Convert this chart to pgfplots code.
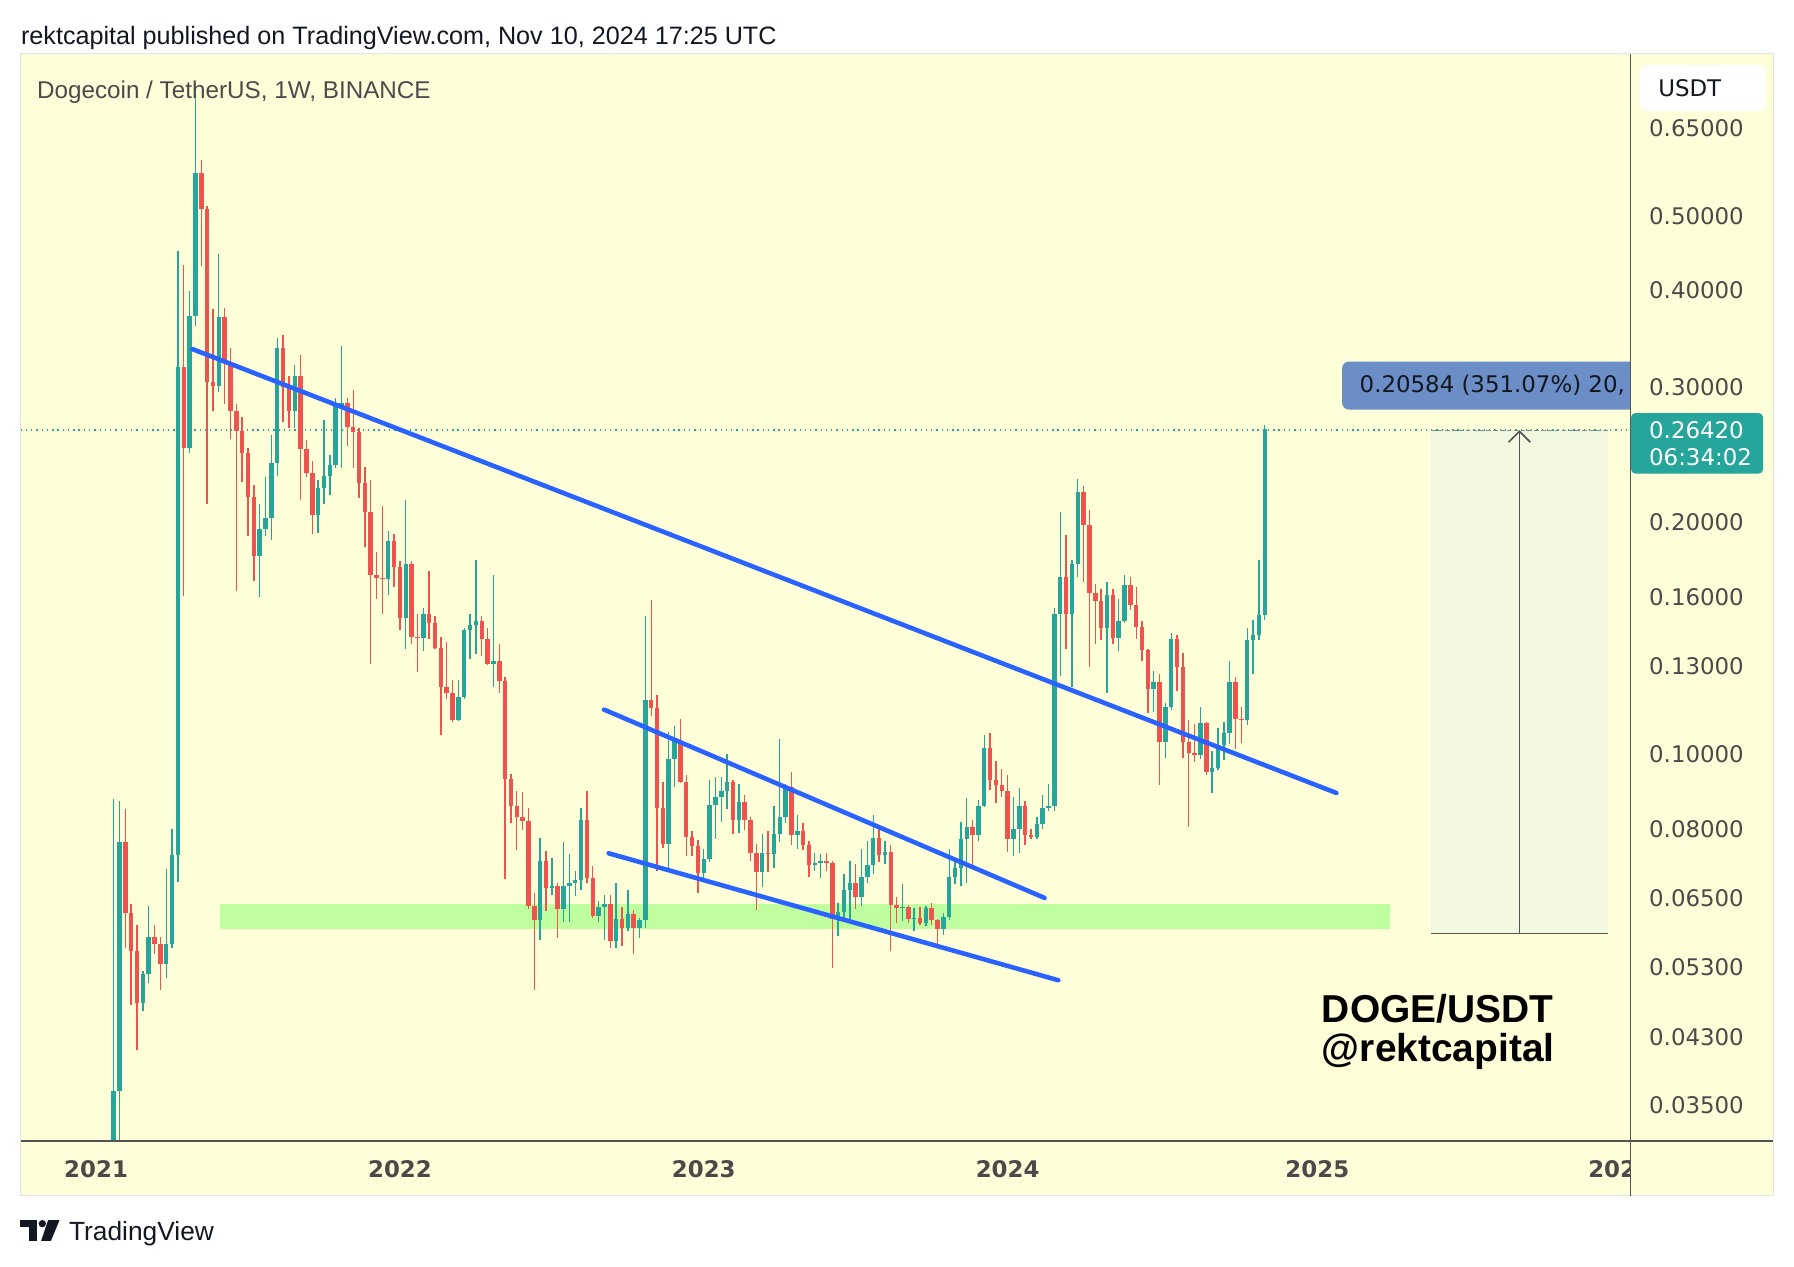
\documentclass[border=0pt]{standalone}
\usepackage{fontspec}
\setmainfont{Liberation Sans}
\newfontfamily\dv{DejaVu Sans}
\usepackage{pgfplots}
\usepackage{pgfplotstable}
\pgfplotsset{compat=1.18}
\definecolor{bg}{HTML}{FEFED8}
\definecolor{upc}{HTML}{26A69A}
\definecolor{dnc}{HTML}{EF5350}
\definecolor{tl}{HTML}{2962FF}
\definecolor{zone}{HTML}{BFFFA0}
\definecolor{meas}{HTML}{F2F8E0}
\definecolor{axisgray}{HTML}{4A4A4A}
\definecolor{titlegray}{HTML}{4B4B4B}
\definecolor{lab}{HTML}{6B8EC6}
\definecolor{tvdark}{HTML}{131722}
\definecolor{linegray}{HTML}{555555}
\definecolor{framec}{HTML}{E3E3E3}
\tikzset{px/.style={x=0.5pt,y=-0.5pt,shift={(0pt,553.5pt)}}}
\pgfplotsset{candle/.style={only marks, mark=*, mark size=0pt, mark options={draw=none,fill=none}, forget plot}}

\pgfplotstableread{
k o h l c
3 0.0086 0.0876 0.0085 0.0366
4 0.0366 0.0870 0.0296 0.0770
8 0.0475 0.0523 0.0465 0.0518
9 0.0518 0.0635 0.0505 0.0579
12 0.0534 0.0710 0.0513 0.0568
13 0.0568 0.0800 0.0561 0.0741
14 0.0741 0.4508 0.0682 0.3185
16 0.2495 0.4000 0.2465 0.3706
17 0.3706 0.7376 0.3600 0.5682
21 0.3010 0.4460 0.2950 0.3700
28 0.1810 0.2116 0.1600 0.1960
29 0.1960 0.2290 0.1920 0.2028
30 0.2028 0.2600 0.1900 0.2390
31 0.2390 0.3470 0.2300 0.3370
34 0.2790 0.3200 0.2650 0.3100
38 0.2045 0.2270 0.1940 0.2214
39 0.2214 0.2720 0.2116 0.2296
40 0.2296 0.2450 0.2170 0.2375
41 0.2375 0.2900 0.2350 0.2830
42 0.2830 0.3390 0.2350 0.2860
50 0.1690 0.1950 0.1610 0.1890
53 0.1501 0.2140 0.1370 0.1766
56 0.1417 0.1550 0.1360 0.1520
62 0.1108 0.1250 0.1105 0.1187
63 0.1187 0.1460 0.1180 0.1450
64 0.1450 0.1520 0.1330 0.1470
65 0.1470 0.1790 0.1350 0.1490
68 0.1310 0.1710 0.1224 0.1323
76 0.0609 0.0778 0.0574 0.0728
78 0.0671 0.0733 0.0656 0.0675
80 0.0630 0.0770 0.0606 0.0675
81 0.0675 0.0742 0.0606 0.0681
82 0.0681 0.0705 0.0655 0.0687
83 0.0687 0.0852 0.0667 0.0823
86 0.0617 0.0645 0.0605 0.0633
87 0.0633 0.0657 0.0574 0.0640
89 0.0572 0.0680 0.0560 0.0611
91 0.0595 0.0667 0.0590 0.0620
93 0.0595 0.0613 0.0578 0.0609
94 0.0609 0.1510 0.0595 0.1177
98 0.0765 0.1070 0.0710 0.0986
99 0.0986 0.1090 0.0906 0.1040
104 0.0701 0.0754 0.0691 0.0732
105 0.0732 0.0926 0.0725 0.0860
106 0.0860 0.0935 0.0777 0.0881
107 0.0881 0.0935 0.0818 0.0897
108 0.0897 0.1000 0.0850 0.0920
110 0.0822 0.0915 0.0790 0.0868
114 0.0703 0.0789 0.0673 0.0744
116 0.0742 0.0857 0.0711 0.0789
117 0.0789 0.1048 0.0770 0.0830
118 0.0830 0.0915 0.0815 0.0906
120 0.0786 0.0834 0.0754 0.0795
123 0.0718 0.0745 0.0706 0.0722
124 0.0722 0.0743 0.0690 0.0728
127 0.0612 0.0642 0.0581 0.0625
128 0.0625 0.0700 0.0612 0.0666
129 0.0666 0.0726 0.0605 0.0680
131 0.0653 0.0754 0.0635 0.0694
132 0.0694 0.0771 0.0680 0.0718
133 0.0718 0.0834 0.0700 0.0778
135 0.0740 0.0771 0.0720 0.0748
138 0.0632 0.0679 0.0607 0.0634
140 0.0612 0.0632 0.0590 0.0614
142 0.0604 0.0636 0.0598 0.0632
145 0.0593 0.0622 0.0583 0.0615
146 0.0615 0.0754 0.0610 0.0694
147 0.0694 0.0728 0.0679 0.0711
148 0.0711 0.0818 0.0675 0.0777
149 0.0777 0.0877 0.0680 0.0804
151 0.0786 0.0872 0.0771 0.0857
152 0.0857 0.1058 0.0855 0.1018
157 0.0777 0.0880 0.0739 0.0800
158 0.0800 0.0903 0.0744 0.0857
161 0.0781 0.0830 0.0776 0.0813
162 0.0813 0.0885 0.0801 0.0853
163 0.0853 0.0915 0.0845 0.0857
164 0.0857 0.1547 0.0845 0.1522
165 0.1522 0.2066 0.1263 0.1701
167 0.1522 0.1786 0.1224 0.1766
168 0.1766 0.2277 0.1700 0.2192
173 0.1458 0.1673 0.1202 0.1610
175 0.1417 0.1590 0.1362 0.1488
176 0.1488 0.1707 0.1480 0.1659
181 0.1217 0.1282 0.1134 0.1242
183 0.1038 0.1166 0.0988 0.1152
184 0.1152 0.1437 0.1140 0.1412
189 0.0999 0.1152 0.0985 0.1097
191 0.0948 0.1009 0.0890 0.0961
192 0.0961 0.1082 0.0955 0.1029
193 0.1029 0.1103 0.0983 0.1065
194 0.1065 0.1320 0.1030 0.1242
197 0.1108 0.1458 0.1091 0.1409
198 0.1409 0.1496 0.1270 0.1430
199 0.1430 0.1786 0.1406 0.1515
200 0.1515 0.2676 0.1495 0.2642
}\upTab

\pgfplotstableread{
k o h l c
5 0.0770 0.0850 0.0560 0.0622
6 0.0622 0.0640 0.0473 0.0555
7 0.0555 0.0600 0.0413 0.0475
10 0.0579 0.0600 0.0550 0.0568
11 0.0568 0.0580 0.0494 0.0534
15 0.3185 0.4315 0.1603 0.2495
18 0.5682 0.5905 0.4300 0.5097
19 0.5097 0.5150 0.2116 0.3044
20 0.3044 0.3780 0.2790 0.3010
22 0.3700 0.3800 0.2850 0.3230
23 0.3230 0.3370 0.2570 0.2790
24 0.2790 0.2850 0.1630 0.2630
25 0.2630 0.2740 0.2260 0.2460
26 0.2460 0.2500 0.1920 0.2160
27 0.2160 0.2240 0.1680 0.1810
32 0.3370 0.3500 0.2700 0.3000
33 0.3000 0.3100 0.2650 0.2790
35 0.3100 0.3300 0.2140 0.2490
36 0.2490 0.2560 0.2290 0.2320
37 0.2320 0.2400 0.1930 0.2045
43 0.2860 0.2900 0.2511 0.2660
44 0.2660 0.2970 0.2353 0.2620
45 0.2620 0.2650 0.2150 0.2248
46 0.2248 0.2360 0.1860 0.2065
47 0.2065 0.2270 0.1310 0.1710
48 0.1710 0.1830 0.1590 0.1695
49 0.1695 0.2100 0.1520 0.1690
51 0.1890 0.1930 0.1650 0.1750
52 0.1750 0.1780 0.1450 0.1501
54 0.1766 0.1780 0.1390 0.1419
55 0.1419 0.1520 0.1280 0.1417
57 0.1520 0.1730 0.1410 0.1480
58 0.1480 0.1513 0.1370 0.1373
59 0.1373 0.1420 0.1060 0.1224
60 0.1224 0.1400 0.1180 0.1200
61 0.1200 0.1250 0.1100 0.1108
66 0.1490 0.1510 0.1340 0.1413
67 0.1413 0.1460 0.1305 0.1310
69 0.1323 0.1390 0.1200 0.1245
70 0.1245 0.1260 0.0689 0.0928
71 0.0928 0.0943 0.0814 0.0857
72 0.0857 0.0895 0.0751 0.0829
73 0.0829 0.0894 0.0798 0.0819
74 0.0819 0.0852 0.0630 0.0636
75 0.0636 0.0660 0.0495 0.0609
77 0.0728 0.0750 0.0626 0.0671
79 0.0675 0.0680 0.0577 0.0630
84 0.0823 0.0897 0.0680 0.0690
85 0.0690 0.0716 0.0614 0.0617
88 0.0640 0.0657 0.0561 0.0572
90 0.0611 0.0633 0.0564 0.0595
92 0.0620 0.0628 0.0551 0.0595
95 0.1177 0.1585 0.1120 0.1147
96 0.1147 0.1195 0.0706 0.0852
97 0.0852 0.0920 0.0755 0.0765
100 0.1040 0.1112 0.0918 0.0922
101 0.0922 0.0940 0.0738 0.0781
102 0.0781 0.0795 0.0738 0.0760
103 0.0760 0.0775 0.0660 0.0701
109 0.0920 0.0925 0.0789 0.0822
111 0.0868 0.0885 0.0797 0.0822
112 0.0822 0.0830 0.0726 0.0744
113 0.0744 0.0765 0.0628 0.0703
115 0.0744 0.0795 0.0703 0.0742
119 0.0906 0.0948 0.0763 0.0786
121 0.0795 0.0815 0.0752 0.0763
122 0.0763 0.0773 0.0694 0.0718
125 0.0728 0.0744 0.0706 0.0722
126 0.0722 0.0728 0.0528 0.0612
130 0.0680 0.0720 0.0630 0.0653
134 0.0778 0.0800 0.0725 0.0740
136 0.0748 0.0762 0.0556 0.0638
137 0.0638 0.0652 0.0604 0.0632
139 0.0634 0.0637 0.0604 0.0612
141 0.0614 0.0633 0.0600 0.0604
143 0.0632 0.0641 0.0601 0.0609
144 0.0609 0.0612 0.0568 0.0593
150 0.0804 0.0822 0.0709 0.0786
153 0.1018 0.1066 0.0898 0.0927
154 0.0927 0.0981 0.0864 0.0913
155 0.0913 0.0956 0.0880 0.0895
156 0.0895 0.0940 0.0748 0.0777
159 0.0857 0.0870 0.0763 0.0786
160 0.0786 0.0801 0.0776 0.0781
166 0.1701 0.1927 0.1370 0.1522
169 0.2192 0.2230 0.1676 0.1985
170 0.1985 0.2078 0.1297 0.1618
171 0.1618 0.1666 0.1390 0.1580
172 0.1580 0.1641 0.1409 0.1458
174 0.1610 0.1640 0.1390 0.1417
177 0.1659 0.1700 0.1540 0.1564
178 0.1564 0.1648 0.1412 0.1464
179 0.1464 0.1490 0.1320 0.1366
180 0.1366 0.1370 0.1131 0.1217
182 0.1242 0.1270 0.0912 0.1038
185 0.1412 0.1427 0.1207 0.1297
186 0.1297 0.1354 0.0990 0.1038
187 0.1038 0.1108 0.0805 0.1004
188 0.1004 0.1095 0.0978 0.0999
190 0.1097 0.1100 0.0940 0.0948
195 0.1242 0.1260 0.1016 0.1113
196 0.1113 0.1152 0.1033 0.1108
}\dnTab

\begin{document}
\begin{tikzpicture}
\begin{scope}[px]
\fill[white] (0,0) rectangle (1568,1107);
\fill[bg] (18,47) rectangle (1550,1045);
\draw[framec, line width=0.5pt] (18,47) rectangle (1550,1045);
\fill[zone] (192,790) rectangle (1215,812);
\fill[meas] (1251,376) rectangle (1405,816);
\draw[upc, line width=0.6pt, dash pattern=on 0.6pt off 1.7pt] (18,376) -- (1425,376);
\end{scope}

\begin{axis}[
  at={(9pt,55pt)}, anchor=south west, scale only axis,
  width=703.5pt, height=475pt,
  xmin=-12.92, xmax=262.58, ymin=-3.45746, ymax=-0.20848,
  axis line style={draw=none}, major tick length=0pt,
  xtick={0,52,104,156,209}, xticklabels={2021,2022,2023,2024,2025},
  xticklabel style={anchor=center, inner sep=0pt, yshift=-12.5pt, font=\dv\bfseries\fontsize{10}{12}\selectfont, text=axisgray},
  ytick={-3.35241,-3.14656,-2.93746,-2.73337,-2.52573,-2.30259,-2.04022,-1.83258,-1.60944,-1.20397,-0.91629,-0.69315,-0.43078},
  yticklabels={0.03500,0.04300,0.05300,0.06500,0.08000,0.10000,0.13000,0.16000,0.20000,0.30000,0.40000,0.50000,0.65000},
  yticklabel pos=right,
  yticklabel style={anchor=west, inner sep=0pt, xshift=8pt, font=\dv\fontsize{10}{12}\selectfont, text=axisgray},
  clip=true,
]
% wicks
\addplot[upc, candle, error bars/.cd, y dir=plus, y explicit, error mark=none, error bar style={line width=0.6pt, upc}]
  table[x=k, y expr={ln(\thisrow{l})}, y error plus expr={ln(\thisrow{h})-ln(\thisrow{l})}] {\upTab};
\addplot[dnc, candle, error bars/.cd, y dir=plus, y explicit, error mark=none, error bar style={line width=0.6pt, dnc}]
  table[x=k, y expr={ln(\thisrow{l})}, y error plus expr={ln(\thisrow{h})-ln(\thisrow{l})}] {\dnTab};
% bodies
\addplot[upc, candle, error bars/.cd, y dir=plus, y explicit, error mark=none, error bar style={line width=1.95pt, upc}]
  table[x=k, y expr={ln(\thisrow{o})}, y error plus expr={ln(\thisrow{c})-ln(\thisrow{o})}] {\upTab};
\addplot[dnc, candle, error bars/.cd, y dir=plus, y explicit, error mark=none, error bar style={line width=1.95pt, dnc}]
  table[x=k, y expr={ln(\thisrow{c})}, y error plus expr={ln(\thisrow{o})-ln(\thisrow{c})}] {\dnTab};
% trend lines
\addplot[tl, line width=2pt, line cap=round, no marks, forget plot]
  table[row sep=\\, x=k, y expr={ln(\thisrow{p})}] {k p\\ 16.45 0.3359\\ 212.26 0.0891\\};
\addplot[tl, line width=2pt, line cap=round, no marks, forget plot]
  table[row sep=\\, x=k, y expr={ln(\thisrow{p})}] {k p\\ 86.94 0.1143\\ 162.33 0.0651\\};
\addplot[tl, line width=2pt, line cap=round, no marks, forget plot]
  table[row sep=\\, x=k, y expr={ln(\thisrow{p})}] {k p\\ 87.72 0.0744\\ 164.68 0.0509\\};
\end{axis}

\begin{scope}[px]
\draw[linegray, line width=0.75pt] (1425,47) -- (1425,1045);
\draw[linegray, line width=0.75pt] (18,997) -- (1550,997);
% measure tool
\draw[linegray, line width=0.75pt] (1251,816) -- (1405,816);
\draw[linegray!70, line width=0.5pt, dash pattern=on 2pt off 1pt] (1251,376) -- (1405,376);
\draw[linegray, line width=0.75pt] (1328,816) -- (1328,377);
\draw[linegray, line width=0.75pt, line join=miter] (1318.5,386.5) -- (1328,377) -- (1337.5,386.5);
% measure label
\begin{scope}
\clip (1150,300) rectangle (1424.6,370);
\fill[lab, rounded corners=3pt] (1173,316) rectangle (1470,358);
\node[anchor=west, inner sep=0pt, text=tvdark, font=\dv\fontsize{10}{12}\selectfont] at (1188,337) {0.20584 (351.07\%) 20,};
\end{scope}
% last price box
\fill[upc, rounded corners=2pt] (1425.5,361) rectangle (1541,414);
\node[anchor=west, inner sep=0pt, text=white, font=\dv\fontsize{10}{12}\selectfont] at (1441,376) {0.26420};
\node[anchor=west, inner sep=0pt, text=white, font=\dv\fontsize{10}{12}\selectfont] at (1441,400) {06:34:02};
% currency box
\fill[white, rounded corners=3pt] (1433,57) rectangle (1543,97);
\node[anchor=west, inner sep=0pt, text=tvdark, font=\dv\fontsize{10}{12}\selectfont] at (1449,77) {USDT};
% partial 2026 label
\begin{scope}
\clip (1370,1000) rectangle (1424.5,1044);
\node[inner sep=0pt, text=axisgray, font=\dv\bfseries\fontsize{10}{12}\selectfont] at (1416,1022) {2026};
\end{scope}
% texts
\node[anchor=base west, inner sep=0pt, text=tvdark, font=\fontsize{11}{13}\selectfont] at (18,39) {rektcapital published on TradingView.com, Nov 10, 2024 17:25 UTC};
\node[anchor=base west, inner sep=0pt, text=titlegray, font=\fontsize{10.6}{13}\selectfont] at (32,86) {Dogecoin / TetherUS, 1W, BINANCE};
\node[anchor=base west, inner sep=0pt, text=black, font=\bfseries\fontsize{17}{20}\selectfont] at (1155,894) {DOGE/USDT};
\node[anchor=base west, inner sep=0pt, text=black, font=\bfseries\fontsize{17}{20}\selectfont] at (1155,928) {@rektcapital};
% footer logo
\fill[tvdark] (17.5,1066.5) rectangle (32.5,1072);
\fill[tvdark] (25.5,1066.5) rectangle (32.5,1084.5);
\fill[tvdark] (37,1069.5) circle (1.6pt);
\fill[tvdark] (42,1066.5) -- (52,1066.5) -- (44.5,1084.5) -- (36,1084.5) -- cycle;
\node[anchor=base west, inner sep=0pt, text=tvdark, font=\fontsize{11.5}{14}\selectfont] at (60,1084) {TradingView};
\end{scope}
\end{tikzpicture}
\end{document}
